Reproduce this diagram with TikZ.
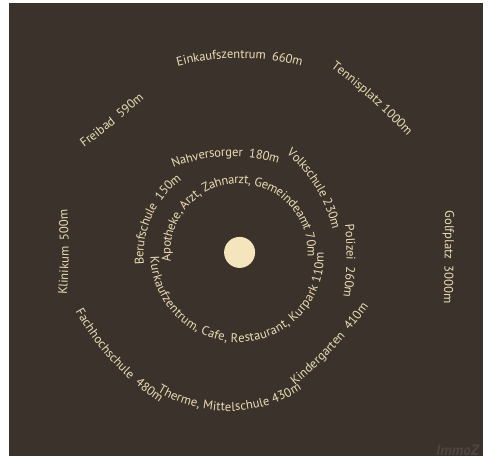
\documentclass[tikz,border=0pt]{standalone}
\usepackage{fontspec}
\setmainfont{PT Sans}
\usetikzlibrary{decorations.text}
\definecolor{bgc}{HTML}{3B322C}
\definecolor{txc}{HTML}{EBDCB4}
\definecolor{dotc}{HTML}{F5E5BC}
\definecolor{wmc}{HTML}{4D4540}
\newcommand\lblfont{\fontsize{12.6}{15}\selectfont\color{txc}}
% #1 start angle, #2 end angle, #3 #4 #5 radius at start / middle / end, #6 text
\newcommand\ringlabel[6]{%
  \path[decorate, decoration={text along path, text align=center, raise=-3.6pt, text={|\lblfont|#6}}]
    plot[domain=-0.25:1.25, samples=90]
    ({239.6+((#3)*(2*(\x)-1)*((\x)-1)+(#4)*4*(\x)*(1-(\x))+(#5)*(\x)*(2*(\x)-1))*cos((#1)+((#2)-(#1))*(\x))},
     {252.4-((#3)*(2*(\x)-1)*((\x)-1)+(#4)*4*(\x)*(1-(\x))+(#5)*(\x)*(2*(\x)-1))*sin((#1)+((#2)-(#1))*(\x))});
}
\begin{document}
\begin{tikzpicture}[x=1pt,y=-1pt]
\useasboundingbox (0,0) rectangle (498,456);
\fill[white] (0,0) rectangle (498,456);
\fill[bgc] (9,3) rectangle (483,456);
\begin{scope}
  \clip (9,3) rectangle (483,456);
  \node[text=wmc, font=\bfseries\itshape\fontsize{15}{17}\selectfont, anchor=base west, inner sep=0] (wm) at (436,455) {ImmoZ};
\end{scope}
\node[circle, fill=dotc, minimum size=31pt, inner sep=0pt] (dot) at (239.6,252.4) {};
% outer ring
\ringlabel{108}{72}{199.7}{198}{199.7}{Einkaufszentrum{\kern3pt} 660m}
\ringlabel{62.2}{36.1}{209}{204.6}{207}{Tennisplatz 1000m}
\ringlabel{144.6}{122.7}{189.7}{182.7}{184.2}{Freibad{\kern3pt} 590m}
\ringlabel{191.6}{168.1}{179.6}{174.5}{179.4}{Klinikum{\kern3pt} 500m}
\ringlabel{10.7}{-13.3}{213}{208.8}{213.7}{Golfplatz{\kern3pt} 3000m}
% middle ring
\ringlabel{202.6}{239.4}{169.5}{164.4}{166.1}{Fachhochschule{\kern3pt} 480m}
\ringlabel{242.3}{292.1}{158.1}{155.2}{147.8}{Therme, Mittelschule 430m}
\ringlabel{-65.3}{-24.5}{138.7}{131.2}{135.1}{Kindergarten{\kern3pt} 410m}
% inner rings
\ringlabel{185.7}{129.5}{100}{98.2}{96.6}{Berufschule{\kern3pt} 150m}
\ringlabel{124.8}{67.8}{109.3}{100.3}{100.5}{Nahversorger{\kern3pt} 180m}
\ringlabel{62}{14}{111.8}{102.7}{99.4}{Volkschule 230m}
\ringlabel{12.4}{-20.3}{112.1}{110.8}{115.2}{Polizei{\kern3pt} 260m}
\ringlabel{190.7}{355}{86}{86.1}{80.8}{Kurkaufzentrum, Cafe, Restaurant, Kurpark 110m}
\ringlabel{191.1}{-8.9}{72.9}{72.4}{71.4}{Apotheke, Arzt, Zahnarzt, Gemeindeamt 70m}
\end{tikzpicture}
\end{document}
